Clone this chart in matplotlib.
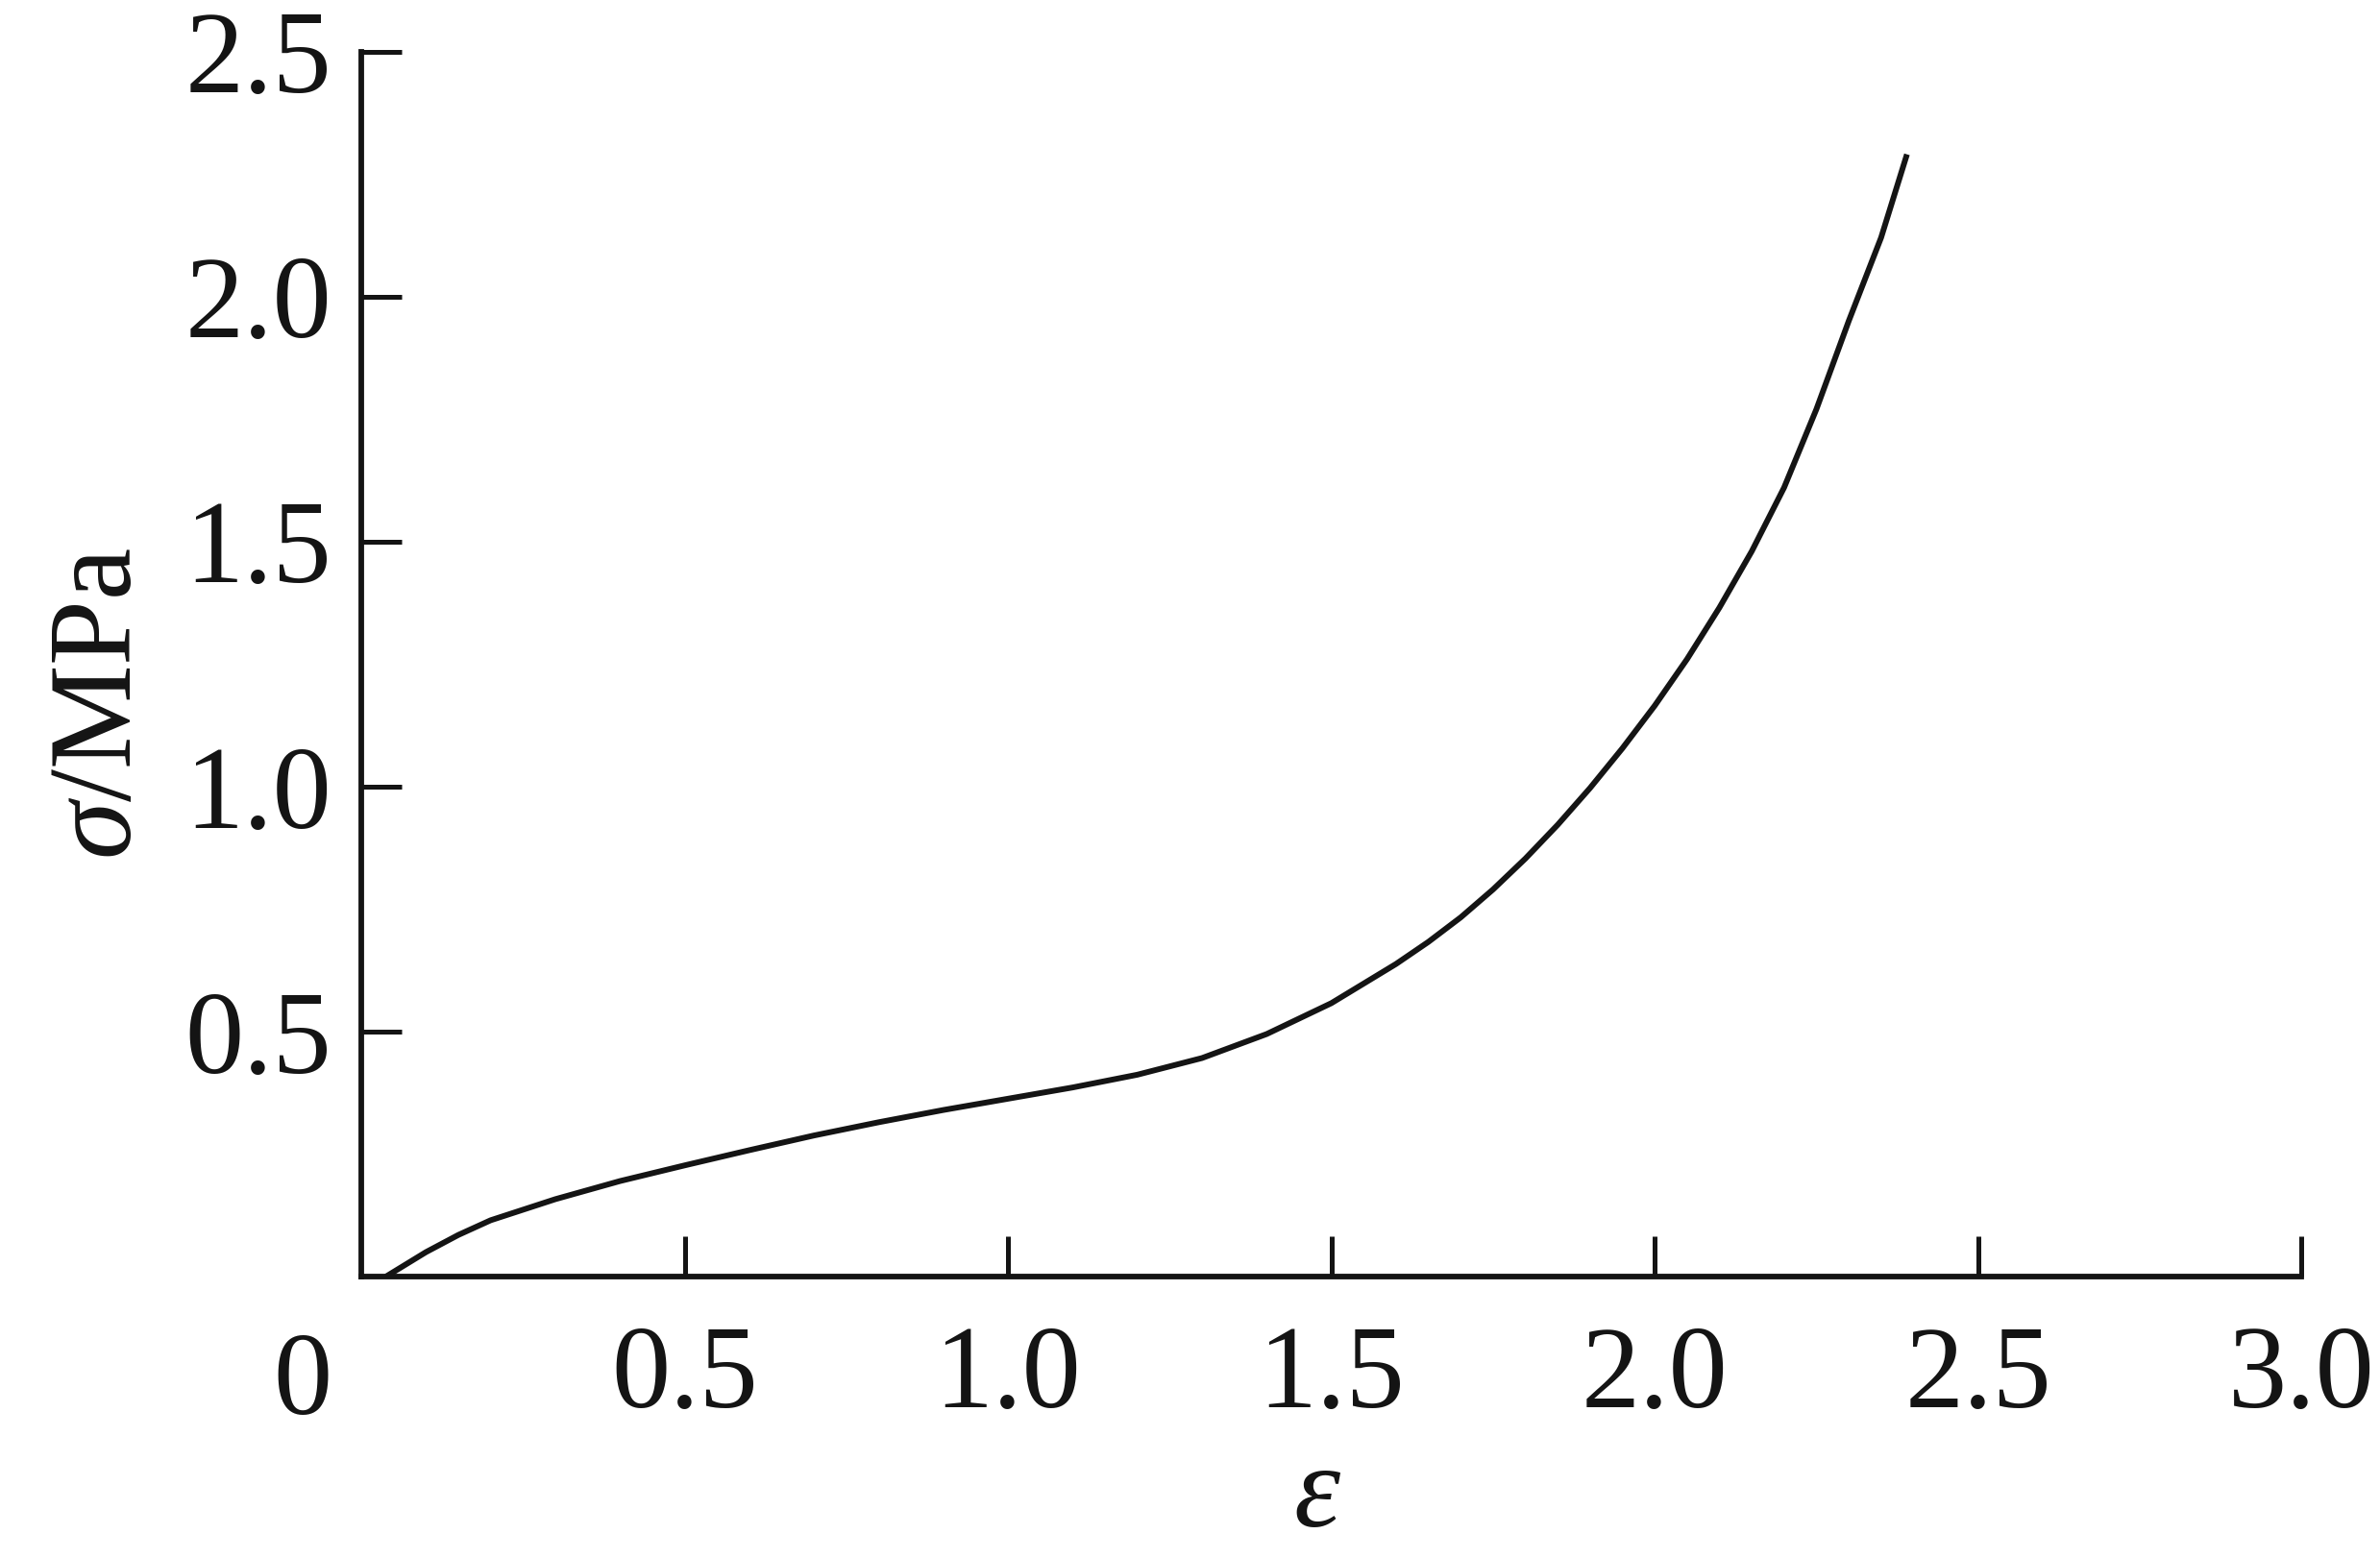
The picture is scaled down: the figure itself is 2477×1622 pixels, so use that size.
import matplotlib
matplotlib.use("Agg")
import matplotlib.pyplot as plt

# strain (epsilon) and stress (sigma, MPa)
strain = [0.038, 0.1, 0.15, 0.2, 0.3, 0.4, 0.5, 0.6, 0.7, 0.8, 0.9, 1.0, 1.1,
          1.2, 1.3, 1.4, 1.5, 1.6, 1.65, 1.7, 1.75, 1.8, 1.85, 1.9, 1.95, 2.0,
          2.05, 2.1, 2.15, 2.2, 2.25, 2.3, 2.35, 2.39]
stress = [0.0, 0.05, 0.085, 0.115, 0.158, 0.195, 0.227, 0.258, 0.288, 0.315,
          0.34, 0.363, 0.386, 0.412, 0.446, 0.495, 0.558, 0.638, 0.683, 0.733,
          0.79, 0.853, 0.922, 0.997, 1.078, 1.165, 1.26, 1.365, 1.48, 1.61,
          1.77, 1.95, 2.12, 2.29]

x_ticks = [0.5, 1.0, 1.5, 2.0, 2.5, 3.0]
x_tick_labels = ["0.5", "1.0", "1.5", "2.0", "2.5", "3.0"]
y_ticks = [0.5, 1.0, 1.5, 2.0, 2.5]
y_tick_labels = ["0.5", "1.0", "1.5", "2.0", "2.5"]

plt.rcParams['font.family'] = 'serif'
plt.rcParams['font.serif'] = ['Liberation Serif']
plt.rcParams['mathtext.fontset'] = 'custom'
plt.rcParams['mathtext.rm'] = 'Liberation Serif'
plt.rcParams['mathtext.it'] = 'Liberation Serif:italic'

ink = '#141414'

fig = plt.figure(figsize=(24.77, 16.22), dpi=100)
ax = fig.add_axes([0.1518, 0.1806, 0.967 - 0.1518, 0.967 - 0.1806])

ax.plot(strain, stress, color=ink, lw=4.3, solid_capstyle='butt',
        solid_joinstyle='round')

ax.set_xlim(0, 3.0)
ax.set_ylim(0, 2.5)
for s in ['top', 'right']:
    ax.spines[s].set_visible(False)
for s in ['left', 'bottom']:
    ax.spines[s].set_linewidth(4.2)
    ax.spines[s].set_color(ink)
    ax.spines[s].set_capstyle('projecting')

ax.set_xticks(x_ticks)
ax.set_xticklabels(x_tick_labels)
ax.set_yticks(y_ticks)
ax.set_yticklabels(y_tick_labels)
ax.tick_params(axis='both', direction='in', length=30, width=3.6, color=ink,
               labelsize=88, labelcolor=ink)
ax.tick_params(axis='x', pad=36)
ax.tick_params(axis='y', pad=22)

ax.text(-0.03, -0.045, "0", transform=ax.transAxes, ha='center', va='top',
        fontsize=88, color=ink)

ax.set_xlabel(r"$\varepsilon$", fontsize=88, color=ink)
ax.set_ylabel(r"$\sigma$/MPa", fontsize=88, color=ink)
ax.xaxis.set_label_coords(0.493, -0.137)
ax.yaxis.set_label_coords(-0.106, 0.468)

fig.savefig("out.png", dpi=100, facecolor='white')
